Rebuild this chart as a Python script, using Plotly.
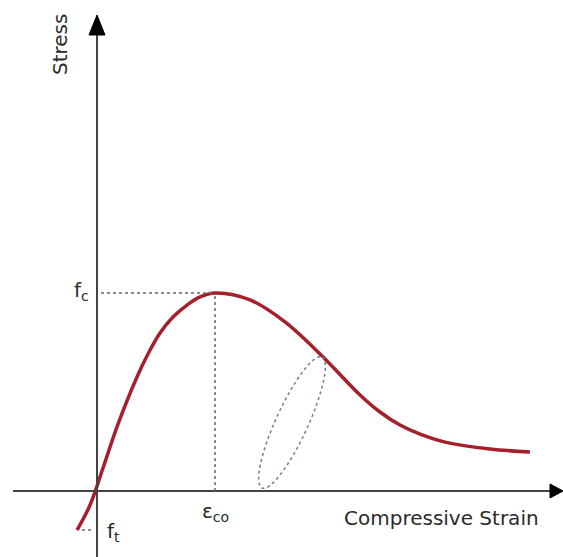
import plotly.graph_objects as go

# ---- data (normalised: strain / eps_co, stress / f_c) ----
strain = [-0.169, -0.059, 0.051, 0.178, 0.339, 0.432, 0.534, 0.644, 0.763, 0.873,
          1.000, 1.297, 1.593, 1.907, 2.229, 2.398, 2.568, 2.754, 2.949, 3.331,
          3.669]
stress = [-0.197, -0.071, 0.116, 0.338, 0.576, 0.692, 0.798, 0.879, 0.939, 0.980,
          1.000, 0.965, 0.854, 0.682, 0.485, 0.399, 0.333, 0.283, 0.247, 0.212,
          0.197]
eps_co = 1.0
f_c = 1.0
f_t = -0.197
x_label = "Compressive Strain"
y_label = "Stress"

W, H = 563, 557
# axis scaling (pixels per unit) and origin
SX, SY = 118.0, 198.0
OX, OY = 97.0, 491.0
x_range = [-OX / SX, (W - OX) / SX]
y_range = [(OY - H) / SY, OY / SY]


def X(px):
    return (px - OX) / SX


def Y(py):
    return (OY - py) / SY


fig = go.Figure()

fig.add_trace(go.Scatter(
    x=strain, y=stress, mode="lines",
    line=dict(color="#a3202c", width=3.5, shape="spline", smoothing=1.0),
    hoverinfo="skip", showlegend=False))

shapes = []
axis_col = "#444444"
# x axis line + arrow
shapes.append(dict(type="line", xref="x", yref="y", x0=X(13), x1=X(551), y0=0, y1=0,
                   line=dict(color=axis_col, width=2)))
shapes.append(dict(type="path", xref="x", yref="y",
                   path=f"M {X(550)} {Y(484)} L {X(563)} {Y(491)} L {X(550)} {Y(498)} Z",
                   fillcolor="#000000", line=dict(color="#000000", width=1)))
# y axis line + arrow
shapes.append(dict(type="line", xref="x", yref="y", x0=0, x1=0, y0=Y(557), y1=Y(34),
                   line=dict(color=axis_col, width=2)))
shapes.append(dict(type="path", xref="x", yref="y",
                   path=f"M {X(89)} {Y(35)} L {X(97)} {Y(15)} L {X(105)} {Y(35)} Z",
                   fillcolor="#000000", line=dict(color="#000000", width=1)))

dot_col = "#666666"
# f_c horizontal guide
shapes.append(dict(type="line", xref="x", yref="y", x0=X(101), x1=eps_co, y0=f_c, y1=f_c,
                   line=dict(color=dot_col, width=1.5, dash="dot")))
# eps_co vertical guide
shapes.append(dict(type="line", xref="x", yref="y", x0=eps_co, x1=eps_co, y0=0, y1=f_c,
                   line=dict(color=dot_col, width=1.5, dash="dot")))
# f_t small guide
shapes.append(dict(type="line", xref="x", yref="y", x0=X(82), x1=X(94), y0=f_t, y1=f_t,
                   line=dict(color=dot_col, width=1.5, dash="dot")))

# tilted dotted ellipse (unloading loop), built from cubic Beziers in pixel space
cx, cy = 292.0, 422.5
ax_, ay_ = 30.0, -65.5
bx_, by_ = 14.6, 6.7
k = 0.5523


def P(px, py):
    return f"{X(px)} {Y(py)}"


A = (cx + ax_, cy + ay_)
B = (cx + bx_, cy + by_)
Am = (cx - ax_, cy - ay_)
Bm = (cx - bx_, cy - by_)
path = (
    f"M {P(*A)} "
    f"C {P(A[0] + k*bx_, A[1] + k*by_)}, {P(B[0] + k*ax_, B[1] + k*ay_)}, {P(*B)} "
    f"C {P(B[0] - k*ax_, B[1] - k*ay_)}, {P(Am[0] + k*bx_, Am[1] + k*by_)}, {P(*Am)} "
    f"C {P(Am[0] - k*bx_, Am[1] - k*by_)}, {P(Bm[0] - k*ax_, Bm[1] - k*ay_)}, {P(*Bm)} "
    f"C {P(Bm[0] + k*ax_, Bm[1] + k*ay_)}, {P(A[0] - k*bx_, A[1] - k*by_)}, {P(*A)} Z"
)
shapes.append(dict(type="path", xref="x", yref="y", path=path,
                   line=dict(color="#6e7f92", width=1.5, dash="dot")))

font = dict(family="DejaVu Sans", size=20, color="#2b2b2b")
annotations = [
    dict(x=X(60), y=Y(45), text=y_label, showarrow=False, textangle=-90, font=font,
         xref="x", yref="y"),
    dict(x=X(441), y=Y(518), text=x_label, showarrow=False, font=font,
         xref="x", yref="y"),
    dict(x=X(81), y=f_c, text="f<sub>c</sub>", showarrow=False, font=font,
         xref="x", yref="y", yshift=2),
    dict(x=X(113), y=f_t, text="f<sub>t</sub>", showarrow=False, font=font,
         xref="x", yref="y", yshift=-2),
    dict(x=eps_co, y=Y(512), text="ε<sub>co</sub>", showarrow=False, font=font,
         xref="x", yref="y"),
]

fig.update_layout(
    width=W, height=H, autosize=False,
    margin=dict(l=0, r=0, t=0, b=0),
    paper_bgcolor="white", plot_bgcolor="white",
    xaxis=dict(range=x_range, visible=False, fixedrange=True),
    yaxis=dict(range=y_range, visible=False, fixedrange=True),
    shapes=shapes, annotations=annotations,
)

fig.write_html("out.html")
